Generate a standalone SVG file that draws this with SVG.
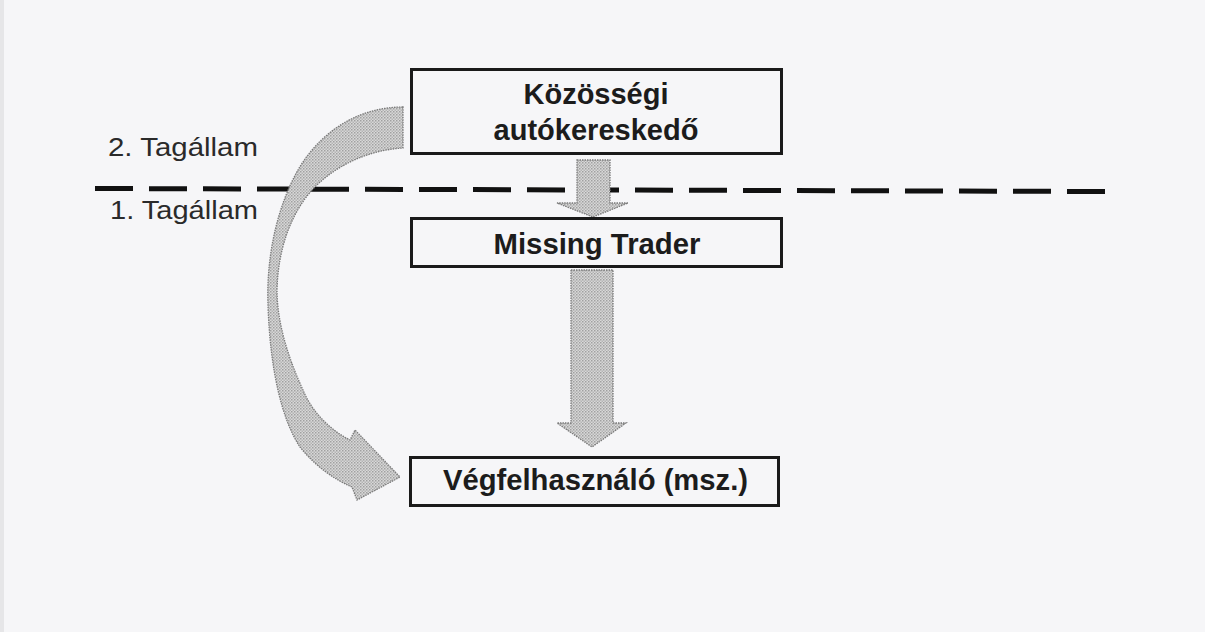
<svg xmlns="http://www.w3.org/2000/svg" width="1205" height="632" viewBox="0 0 1205 632">
  <defs>
    <!-- stippled grey fill used by all arrows -->
    <pattern id="stipple" width="3" height="3" patternUnits="userSpaceOnUse">
      <rect width="3" height="3" fill="#d8d8d8"/>
      <rect x="0" y="0" width="1.5" height="1.5" fill="#a0a0a0"/>
      <rect x="1.5" y="1.5" width="1.5" height="1.5" fill="#b4b4b4"/>
    </pattern>
    <style>
      .box { fill: none; stroke: #1a1a1a; stroke-width: 3; }
      .title { font-family: "Liberation Sans", Arial, sans-serif; font-weight: bold; font-size: 30px; fill: #1c1c1c; text-anchor: middle; }
      .label { font-family: "Liberation Sans", Arial, sans-serif; font-size: 26px; fill: #2a2a2a; }
      .arrow { fill: url(#stipple); stroke: #7a7a7a; stroke-width: 1.3; stroke-dasharray: 1.5 1; }
      .border { stroke: #111; stroke-width: 5; stroke-dasharray: 38 16; fill: none; }
    </style>
  </defs>

  <!-- paper -->
  <rect width="1205" height="632" fill="#f6f6f8"/>
  <rect width="4" height="632" fill="#e6e6e8"/>

  <!-- member-state labels -->
  <g id="labels">
    <text class="label" x="108" y="156" textLength="150" lengthAdjust="spacingAndGlyphs">2. Tagállam</text>
    <text class="label" x="110" y="219" textLength="148" lengthAdjust="spacingAndGlyphs">1. Tagállam</text>
  </g>

  <!-- state border -->
  <line class="border" x1="95" y1="188.5" x2="1108" y2="191.5"/>

  <!-- flows -->
  <g id="connectors">
    <!-- trader to missing trader -->
    <path class="arrow" d="M577,160 H610 V203 H628 L593,217 L557,203 H577 Z"/>
    <!-- missing trader to end user -->
    <path class="arrow" d="M571,270 H613 V423 H626 L592,447 L557,423 H571 Z"/>
    <!-- direct invoice flow from trader to end user -->
    <path class="arrow" d="M403,107 C355,107 318,135 298,170 C278,205 266,255 268,305 C270,370 282,420 300,447 C315,466 335,480 352,487 L357,500 L400,477 L355,430 L350,440 C330,430 312,412 303,390 C290,362 277,325 277,290 C278,250 290,215 312,190 C334,166 368,150 403,148 Z"/>
  </g>

  <g id="kozossegi-autokereskedo">
    <rect class="box" x="411.5" y="69.5" width="370" height="84"/>
    <text class="title" x="596" y="104" textLength="145" lengthAdjust="spacingAndGlyphs">Közösségi</text>
    <text class="title" x="596" y="140" textLength="205" lengthAdjust="spacingAndGlyphs">autókereskedő</text>
  </g>

  <g id="missing-trader">
    <rect class="box" x="411.5" y="218.5" width="370" height="48"/>
    <text class="title" x="597" y="254" textLength="207" lengthAdjust="spacingAndGlyphs">Missing Trader</text>
  </g>

  <g id="vegfelhasznalo">
    <rect class="box" x="410.5" y="457.5" width="368" height="48"/>
    <text class="title" x="595.5" y="490" textLength="305" lengthAdjust="spacingAndGlyphs">Végfelhasználó (msz.)</text>
  </g>
</svg>
